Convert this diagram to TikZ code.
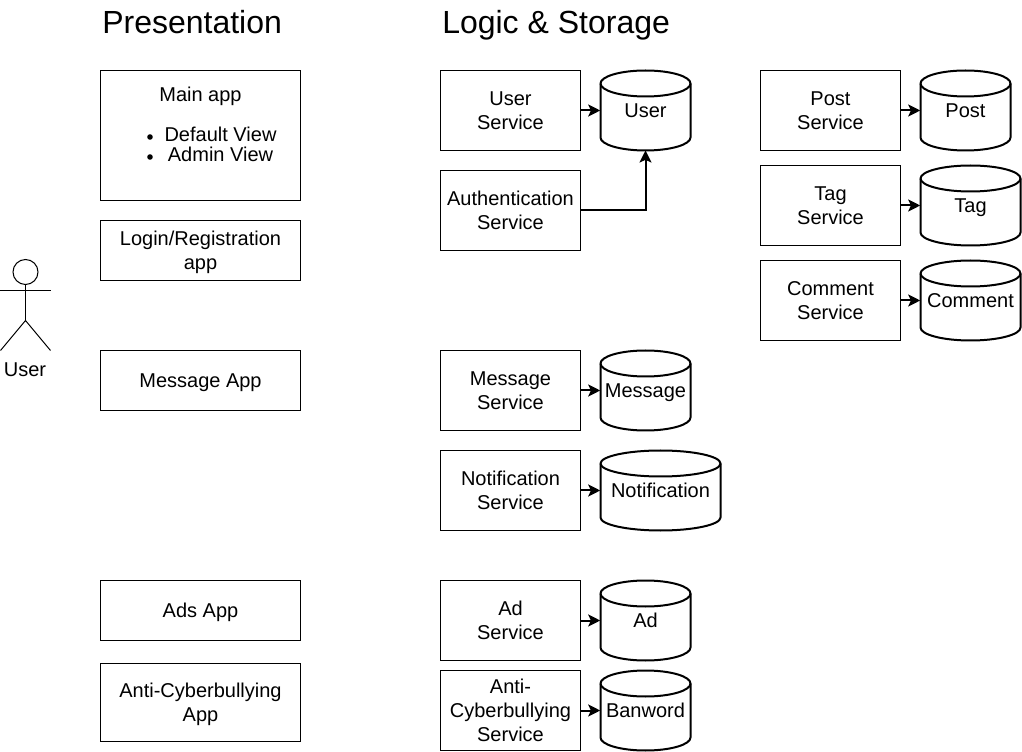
\documentclass[tikz,border=0pt]{standalone}
\usepackage{fontspec}
\setmainfont{Liberation Sans}
\usetikzlibrary{arrows.meta}
\newcommand{\ls}[1]{\rule[-2.4pt]{0pt}{15.6pt}\smash{#1}}
\tikzset{
  x=0.75pt,y=-0.75pt,
  boxnode/.style={draw=black,line width=0.75pt,align=center,inner sep=0pt,font=\fontsize{15pt}{18pt}\selectfont},
  label text/.style={inner sep=0pt,align=center,font=\fontsize{15pt}{18pt}\selectfont},
  title text/.style={inner sep=0pt,anchor=base west,font=\fontsize{24pt}{29pt}\selectfont},
  cylnode/.style={inner sep=0pt,align=center,font=\fontsize{15pt}{18pt}\selectfont},
  cylline/.style={draw=black,line width=1.5pt},
  link/.style={draw=black,line width=1.5pt,-{Stealth[length=9pt,width=9pt,inset=2pt]}},
  actor/.style={draw=black,line width=0.75pt},
  dotnode/.style={circle,fill=black,inner sep=0pt,minimum size=4.2pt}
}
% name, left, top, width, height, text
\newcommand{\svcbox}[6]{\node[boxnode,minimum width=#4*0.75pt,minimum height=#5*0.75pt] (#1) at ({#2+#4/2},{#3+#5/2}) {#6};}
% name, left, top, width, text  (height 80)
\newcommand{\dbcyl}[5]{%
  \draw[cylline] (#2,#3+13) arc[start angle=180,end angle=360,x radius=#4/2,y radius=13]
     -- (#2+#4,#3+67) arc[start angle=0,end angle=180,x radius=#4/2,y radius=13] -- cycle;
  \draw[cylline] (#2,#3+13) arc[start angle=180,end angle=0,x radius=#4/2,y radius=13];
  \node[cylnode,minimum width=#4*0.75pt,minimum height=60pt] (#1) at ({#2+#4/2},#3+40) {\ls{#5}};}
\begin{document}
\begin{tikzpicture}
\useasboundingbox (0,0) rectangle (1022,752);
\node[title text] (t1) at (102,34) {Presentation};
\node[title text] (t2) at (442,34) {Logic \& Storage};

\svcbox{main}{100.5}{70.5}{200}{130}{}
\node[label text] (maint) at (200.5,94.5) {\ls{Main app}};
\node[label text] (dv) at (220.5,134.5) {\ls{Default View}};
\node[label text] (av) at (220.5,154.5) {\ls{Admin View}};
\node[dotnode] (b1) at (150,137) {};
\node[dotnode] (b2) at (150,157) {};
\svcbox{login}{100.5}{220.5}{200}{60}{\ls{Login/Registration}\\\ls{app}}
\svcbox{msgapp}{100.5}{350.5}{200}{60}{\ls{Message App}}
\svcbox{adsapp}{100.5}{580.5}{200}{60}{\ls{Ads App}}
\svcbox{antiapp}{100.5}{663.5}{200}{78}{\ls{Anti-Cyberbullying}\\\ls{App}}

\svcbox{usersvc}{440.5}{70.5}{140}{80}{\ls{User}\\\ls{Service}}
\svcbox{authsvc}{440.5}{170.5}{140}{80}{\ls{Authentication}\\\ls{Service}}
\svcbox{msgsvc}{440.5}{350.5}{140}{80}{\ls{Message}\\\ls{Service}}
\svcbox{notsvc}{440.5}{450.5}{140}{80}{\ls{Notification}\\\ls{Service}}
\svcbox{adsvc}{440.5}{580.5}{140}{80}{\ls{Ad}\\\ls{Service}}
\svcbox{antisvc}{440.5}{670.5}{140}{80}{\ls{Anti-}\\\ls{Cyberbullying}\\\ls{Service}}
\svcbox{postsvc}{760.5}{70.5}{140}{80}{\ls{Post}\\\ls{Service}}
\svcbox{tagsvc}{760.5}{165.5}{140}{80}{\ls{Tag}\\\ls{Service}}
\svcbox{comsvc}{760.5}{260.5}{140}{80}{\ls{Comment}\\\ls{Service}}

\dbcyl{userdb}{600.5}{70.5}{90}{User}
\dbcyl{msgdb}{600.5}{350.5}{90}{Message}
\dbcyl{notdb}{600.5}{450.5}{120}{Notification}
\dbcyl{addb}{600.5}{580.5}{90}{Ad}
\dbcyl{bandb}{600.5}{670.5}{90}{Banword}
\dbcyl{postdb}{920.5}{70.5}{90}{Post}
\dbcyl{tagdb}{920.5}{165.5}{100}{Tag}
\dbcyl{comdb}{920.5}{260.5}{100}{Comment}

\draw[link] (usersvc.east) -- (userdb.west);
\draw[link] (msgsvc.east) -- (msgdb.west);
\draw[link] (notsvc.east) -- (notdb.west);
\draw[link] (adsvc.east) -- (addb.west);
\draw[link] (antisvc.east) -- (bandb.west);
\draw[link] (postsvc.east) -- (postdb.west);
\draw[link] (tagsvc.east) -- (tagdb.west);
\draw[link] (comsvc.east) -- (comdb.west);
\coordinate (userbottom) at (645.5,150.5);
\draw[link] (authsvc.east) -| (userbottom);

\draw[actor] (25.5,272) circle[radius=12.5*0.75pt];
\draw[actor] (25.5,284.5) -- (25.5,320.5);
\draw[actor] (0.5,290.5) -- (50.5,290.5);
\draw[actor] (0.5,350.5) -- (25.5,320.5) -- (50.5,350.5);
\node[label text] (actorlabel) at (25,369.5) {\ls{User}};
\end{tikzpicture}
\end{document}
